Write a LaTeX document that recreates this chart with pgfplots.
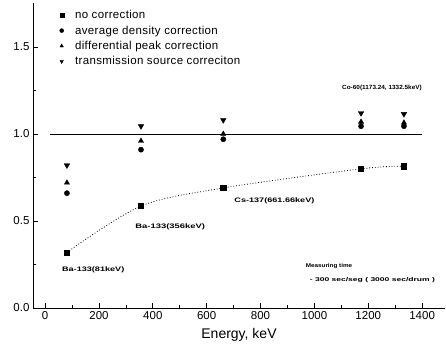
\documentclass[border=0pt]{standalone}
\usepackage{fontspec}
\setmainfont{Liberation Sans}
\usepackage{graphicx}
\usepackage{pgfplots}
\pgfplotsset{compat=1.18}
\newcommand{\ann}[2]{\scalebox{#1}[1]{#2}}
\begin{document}
\begin{tikzpicture}
\begin{axis}[
  scale only axis,
  width=412pt, height=305pt,
  xmin=-45, xmax=1485, ymin=0, ymax=1.753,
  axis x line=bottom, axis y line=left,
  axis line style={-, line width=1pt},
  tick align=inside,
  xtick={0,200,...,1400}, minor xtick={100,300,...,1300},
  ytick={0,0.5,1.0,1.5}, minor ytick={0.25,0.75,1.25},
  major tick length=5pt, minor tick length=3pt,
  tick style={black, line width=0.8pt},
  xticklabel style={/pgf/number format/.cd, set thousands separator={}},
  yticklabel style={/pgf/number format/.cd, fixed, fixed zerofill, precision=1},
  /pgf/number format/assume math mode=true,
  ticklabel style={font=\fontsize{11.5}{13}\selectfont},
  xlabel={Energy, keV},
  xlabel style={font=\fontsize{14}{16}\selectfont, yshift=-2pt},
  legend style={at={(0.055,0.99)}, anchor=north west, draw=none, fill=none,
    font=\fontsize{11.5}{13}\selectfont\addfontfeatures{LetterSpace=3}, row sep=1.6pt, legend cell align=left},
  legend image code/.code={\draw[#1, mark size=2pt] plot coordinates {(0.1cm,0cm)}; \path[draw=none] (0cm,0cm) (0.5cm,0cm);},
  clip=false,
]
\coordinate (o) at (rel axis cs:0,0);
\addplot[only marks, mark=square*, mark size=2.6pt, black] coordinates {
 (81,0.32) (356,0.586) (661.66,0.69) (1173.24,0.80) (1332.5,0.815)};
\addlegendentry{no correction}
\addplot[only marks, mark=*, mark size=2.6pt, black] coordinates {
 (81,0.66) (356,0.91) (661.66,0.97) (1173.24,1.045) (1332.5,1.045)};
\addlegendentry{average density correction}
\addplot[only marks, mark=triangle*, mark size=3pt, black] coordinates {
 (81,0.72) (356,0.96) (661.66,1.0) (1173.24,1.07) (1332.5,1.065)};
\addlegendentry{differential peak correction}
\addplot[only marks, mark=triangle*, mark options={rotate=180}, mark size=3.2pt, black] coordinates {
 (81,0.82) (356,1.045) (661.66,1.08) (1173.24,1.12) (1332.5,1.115)};
\addlegendentry{transmission source correciton}
\addplot[forget plot, black, line width=0.9pt] coordinates {(18,1) (1400,1)};
\addplot[forget plot, black, dotted, smooth, line width=0.8pt] coordinates {
 (81,0.32) (356,0.586) (661.66,0.69) (1173.24,0.80) (1332.5,0.815)};
\node[font=\bfseries\fontsize{6.5}{7}\selectfont, anchor=west] at (axis cs:50,0.22) {\ann{1.4}{Ba-133(81keV)}};
\node[font=\bfseries\fontsize{6.5}{7}\selectfont, anchor=west] at (axis cs:322,0.465) {\ann{1.45}{Ba-133(356keV)}};
\node[font=\bfseries\fontsize{6.5}{7}\selectfont, anchor=west] at (axis cs:690,0.615) {\ann{1.4}{Cs-137(661.66keV)}};
\node[font=\bfseries\fontsize{6}{7}\selectfont, anchor=west] at (axis cs:1090,1.265) {\ann{1.07}{Co-60(1173.24, 1332.5keV)}};
\node[font=\bfseries\fontsize{5.5}{7}\selectfont, anchor=west] at (axis cs:955,0.24) {\ann{1.15}{Measuring time}};
\node[font=\bfseries\fontsize{5.5}{7}\selectfont, anchor=west] at (axis cs:970,0.16) {\ann{1.55}{- 300 sec/seg ( 3000 sec/drum )}};
\end{axis}
\pgfresetboundingbox
\path (o) ++(-33pt,-48pt) rectangle ++(446pt,356pt);
\end{tikzpicture}
\end{document}
